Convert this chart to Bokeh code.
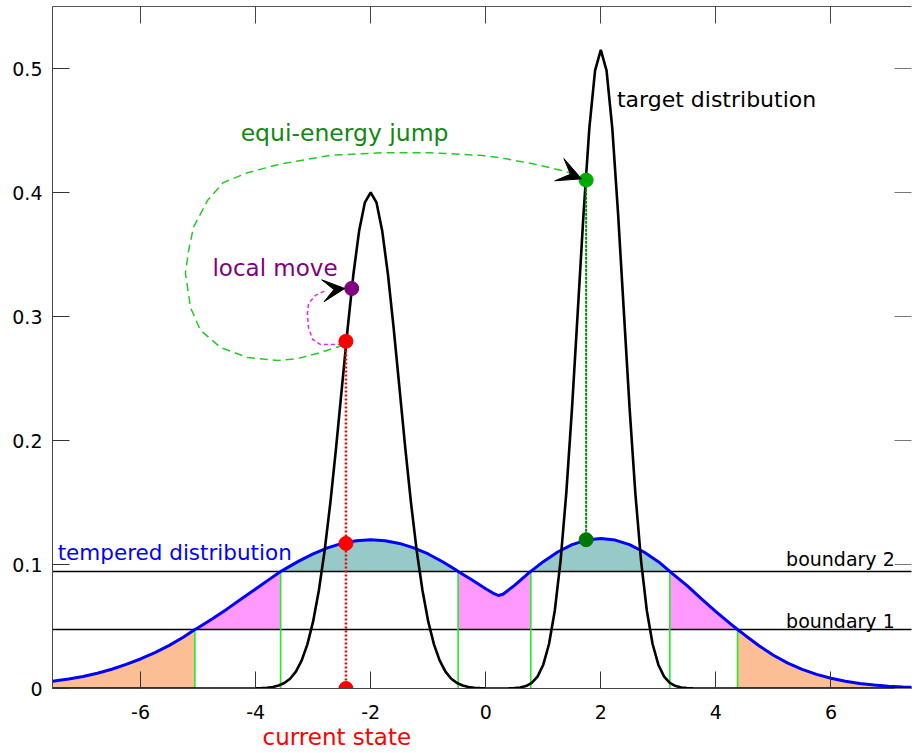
from bokeh.plotting import figure
from bokeh.models import (Range1d, LinearAxis, FixedTicker, Label, Arrow, VeeHead,
                          CustomLabelingPolicy, Title)
from bokeh.embed import file_html
from bokeh.resources import INLINE

# ---------------- data ----------------
target_x = [-7.6,
            -4.0, -3.9, -3.8, -3.7, -3.6, -3.5, -3.4, -3.3, -3.2, -3.1,
            -3.0, -2.9, -2.8, -2.7, -2.6, -2.5, -2.4, -2.3, -2.2, -2.1,
            -2.0, -1.9, -1.8, -1.7, -1.6, -1.5, -1.4, -1.3, -1.2, -1.1,
            -1.0, -0.9, -0.8, -0.7, -0.6, -0.5, -0.4, -0.3, -0.2, -0.1,
            0.0, 0.1, 0.2, 0.3, 0.4, 0.5, 0.6, 0.7, 0.8, 0.9,
            1.0, 1.1, 1.2, 1.3, 1.4, 1.5, 1.6, 1.7, 1.8, 1.9,
            2.0, 2.1, 2.2, 2.3, 2.4, 2.5, 2.6, 2.7, 2.8, 2.9,
            3.0, 3.1, 3.2, 3.3, 3.4, 3.5, 3.6, 3.7, 3.8, 3.9,
            4.0, 7.6]
target_y = [0.0,
            0.0001, 0.0003, 0.0006, 0.0012, 0.0024, 0.0044, 0.0079, 0.0136, 0.0225, 0.0356,
            0.0541, 0.0792, 0.1112, 0.1501, 0.1947, 0.2426, 0.2905, 0.3341, 0.3692, 0.3921,
            0.4000, 0.3921, 0.3692, 0.3341, 0.2905, 0.2426, 0.1947, 0.1501, 0.1112, 0.0792,
            0.0541, 0.0356, 0.0225, 0.0136, 0.0079, 0.0044, 0.0024, 0.0012, 0.0006, 0.0003,
            0.0001, 0.0, 0.0, 0.0, 0.0001, 0.0003, 0.0008, 0.0020, 0.0045, 0.0096,
            0.0192, 0.0359, 0.0627, 0.1028, 0.1576, 0.2263, 0.3043, 0.3830, 0.4515, 0.4983,
            0.5150, 0.4983, 0.4515, 0.3830, 0.3043, 0.2263, 0.1576, 0.1028, 0.0627, 0.0359,
            0.0192, 0.0096, 0.0045, 0.0020, 0.0008, 0.0003, 0.0001, 0.0, 0.0, 0.0,
            0.0, 0.0]

tempered_x = [-7.6, -7.5, -7.25, -7.0, -6.75, -6.5, -6.25, -6.0, -5.75, -5.5, -5.25,
              -5.056, -5.0, -4.75, -4.5, -4.25, -4.0, -3.75, -3.565, -3.5, -3.25,
              -3.0, -2.75, -2.5, -2.25, -2.0, -1.75, -1.5, -1.25, -1.0, -0.75,
              -0.5, -0.48, -0.25, 0.0, 0.125, 0.22, 0.3, 0.5, 0.75, 0.783,
              1.0, 1.25, 1.5, 1.75, 2.0, 2.25, 2.5, 2.75, 3.0, 3.2,
              3.25, 3.5, 3.75, 4.0, 4.25, 4.377, 4.5, 4.75, 5.0, 5.25,
              5.5, 5.75, 6.0, 6.25, 6.5, 6.75, 7.0, 7.25, 7.5, 7.6]
tempered_y = [0.0052, 0.0060, 0.0076, 0.0097, 0.0123, 0.0155, 0.0194, 0.0238, 0.0290, 0.0348, 0.0415,
              0.0476, 0.0490, 0.0562, 0.0640, 0.0721, 0.0802, 0.0884, 0.0944, 0.0961, 0.1027,
              0.1086, 0.1134, 0.1170, 0.1192, 0.1200, 0.1192, 0.1170, 0.1134, 0.1085, 0.1022,
              0.0951, 0.0944, 0.0879, 0.0805, 0.0770, 0.0750, 0.0760, 0.0832, 0.0933, 0.0944,
              0.1023, 0.1101, 0.1160, 0.1197, 0.1210, 0.1197, 0.1160, 0.1101, 0.1023, 0.0944,
              0.0924, 0.0829, 0.0723, 0.0620, 0.0523, 0.0476, 0.0432, 0.0345, 0.0268, 0.0205,
              0.0154, 0.0114, 0.0083, 0.0059, 0.0041, 0.0028, 0.0019, 0.0013, 0.0009, 0.0008]

boundary_levels = [0.0476, 0.0944]          # boundary 1, boundary 2
crossing_x = [-5.056, -3.565, -0.48, 0.783, 3.2, 4.377]
crossing_level = [0.0476, 0.0944, 0.0944, 0.0944, 0.0944, 0.0476]

current_x = -2.43
current_y = [0.0, 0.117, 0.280]
local_x = -2.33
local_y = 0.3226
jump_x = 1.745
jump_y = [0.120, 0.410]

jump_path_x = [-2.47, -2.87, -3.27, -3.62, -4.14, -4.61, -4.96, -5.13, -5.22, -5.165,
               -5.08, -4.83, -4.56, -4.14, -3.565, -2.70, -1.83, -0.96, -0.09, 0.26,
               0.835, 1.30, 1.565]
jump_path_y = [0.277, 0.271, 0.266, 0.2645, 0.267, 0.275, 0.289, 0.307, 0.335, 0.353,
               0.372, 0.394, 0.408, 0.416, 0.423, 0.430, 0.432, 0.432, 0.430, 0.428,
               0.423, 0.418, 0.4145]
local_path_x = [-2.50, -2.87, -3.01, -3.08, -3.10, -3.08, -2.96, -2.78]
local_path_y = [0.2774, 0.2774, 0.2815, 0.291, 0.302, 0.3105, 0.317, 0.321]

x_ticks = [-6, -4, -2, 0, 2, 4, 6]
x_tick_labels = ["-6", "-4", "-2", "0", "2", "4", "6"]
y_ticks = [0.0, 0.1, 0.2, 0.3, 0.4, 0.5]
y_tick_labels = ["0", "0.1", "0.2", "0.3", "0.4", "0.5"]

FONT = "DejaVu Sans"

p = figure(width=915, height=753, x_range=Range1d(-7.53, 7.40), y_range=Range1d(0, 0.55),
           output_backend="svg", toolbar_location=None,
           min_border_left=52, min_border_right=0, min_border_top=6, min_border_bottom=65)
p.xgrid.visible = False
p.ygrid.visible = False
p.outline_line_color = None
p.background_fill_color = "white"

# ---------------- filled energy levels ----------------
edges = [tempered_x[0]] + crossing_x + [tempered_x[-1]]
colors = ["#fcbf95", "#ff99ff", "#97c9c9"]
for a, b in zip(edges[:-1], edges[1:]):
    xs = [x for x in tempered_x if a <= x <= b]
    ys = [y for x, y in zip(tempered_x, tempered_y) if a <= x <= b]
    mid = ys[len(ys) // 2]
    if mid < boundary_levels[0]:
        base, col = 0.0, colors[0]
    elif mid < boundary_levels[1]:
        base, col = boundary_levels[0], colors[1]
    else:
        base, col = boundary_levels[1], colors[2]
    p.varea(x=xs, y1=[base] * len(xs), y2=ys, fill_color=col)

# boundary lines
for lvl in boundary_levels:
    p.line(x=[-7.6, 7.6], y=[lvl, lvl], line_color="black", line_width=1.4)

# green vertical separators
p.segment(x0=crossing_x, y0=[0] * len(crossing_x), x1=crossing_x, y1=crossing_level,
          line_color="#22ee22", line_width=1.6)

# tempered distribution
p.line(tempered_x, tempered_y, line_color="#0000ff", line_width=3)

# target distribution
p.line(target_x, target_y, line_color="black", line_width=2.6)

# vertical dotted guides
p.line([current_x, current_x], [current_y[0], current_y[2]], line_color="#ff0000",
       line_width=2.5, line_dash="2 2")
p.line([jump_x, jump_x], jump_y, line_color="#008800", line_width=2, line_dash="3 1")

# dashed move paths
p.line(jump_path_x, jump_path_y, line_color="#22cc22", line_width=1.5, line_dash="8 5")
p.line(local_path_x, local_path_y, line_color="#ee22ee", line_width=1.5, line_dash="4 3")

# arrowheads
p.add_layout(Arrow(x_start=jump_path_x[-2], y_start=jump_path_y[-2], x_end=jump_x - 0.08, y_end=jump_y[1] + 0.001,
                   line_color=None, end=VeeHead(size=24, fill_color="black", line_color="black")))
p.add_layout(Arrow(x_start=local_path_x[-1], y_start=local_path_y[-1], x_end=local_x - 0.12, y_end=local_y,
                   line_color=None, end=VeeHead(size=22, fill_color="black", line_color="black")))

# dots
p.scatter([current_x] * 3, current_y, size=14, color="#ff0000")
p.scatter([local_x], [local_y], size=14, color="#800080")
p.scatter([jump_x], [jump_y[1]], size=14, color="#00aa00")
p.scatter([jump_x], [jump_y[0]], size=14, color="#007700")

# ---------------- texts ----------------
def lab(x, y, text, size, color):
    p.add_layout(Label(x=x, y=y, text=text, text_font=FONT, text_font_size=size,
                       text_color=color, text_baseline="alphabetic", text_align="left"))

lab(2.28, 0.475, "target distribution", "22px", "black")
lab(-4.26, 0.448, "equi-energy jump", "23.5px", "#118811")
lab(-4.75, 0.3388, "local move", "23px", "#800080")
lab(-7.44, 0.1097, "tempered distribution", "21.5px", "#0000ff")
lab(5.22, 0.1048, "boundary 2", "19px", "black")
lab(5.22, 0.0548, "boundary 1", "19px", "black")

# ---------------- axes ----------------
xa = p.xaxis[0]
xa.ticker = FixedTicker(ticks=x_ticks)
xa.major_label_overrides = dict(zip(x_ticks, x_tick_labels))
ya = p.yaxis[0]
ya.ticker = FixedTicker(ticks=y_ticks)
ya.major_label_overrides = dict(zip(y_ticks, y_tick_labels))
for ax in (xa, ya):
    ax.major_tick_in = 17
    ax.major_tick_out = 0
    ax.minor_tick_in = 0
    ax.minor_tick_out = 0
    ax.axis_line_color = "#444444"
    ax.major_tick_line_color = "#333333"
    ax.major_label_text_font = FONT
    ax.major_label_text_font_size = "19px"
    ax.major_label_text_color = "black"
xa.major_label_standoff = 16
ya.major_label_standoff = 10

hide_all = CustomLabelingPolicy(code="for (const i of Array.from(indices)) { indices.unset(i) }; return indices")
top = LinearAxis(ticker=FixedTicker(ticks=x_ticks), major_label_policy=hide_all,
                 major_label_text_font_size="1px",
                 major_label_standoff=0, major_tick_in=17, major_tick_out=0,
                 minor_tick_in=0, minor_tick_out=0, axis_line_color="#555555",
                 major_tick_line_color="#444444")
right = LinearAxis(ticker=FixedTicker(ticks=y_ticks), major_label_policy=hide_all,
                   major_label_text_font_size="1px",
                   major_label_standoff=0, major_tick_in=17, major_tick_out=0,
                   minor_tick_in=0, minor_tick_out=0, axis_line_color=None,
                   major_tick_line_color="#777777")
p.add_layout(top, "above")
p.add_layout(right, "right")

# "current state" caption under the x axis, left-aligned at its place in the reference
p.add_layout(Title(text="current state", align="left", offset=210, standoff=0,
                   text_font=FONT, text_font_size="23px", text_font_style="normal",
                   text_color="#ff0000"), "below")

open("out.html", "w").write(file_html(p, INLINE))
